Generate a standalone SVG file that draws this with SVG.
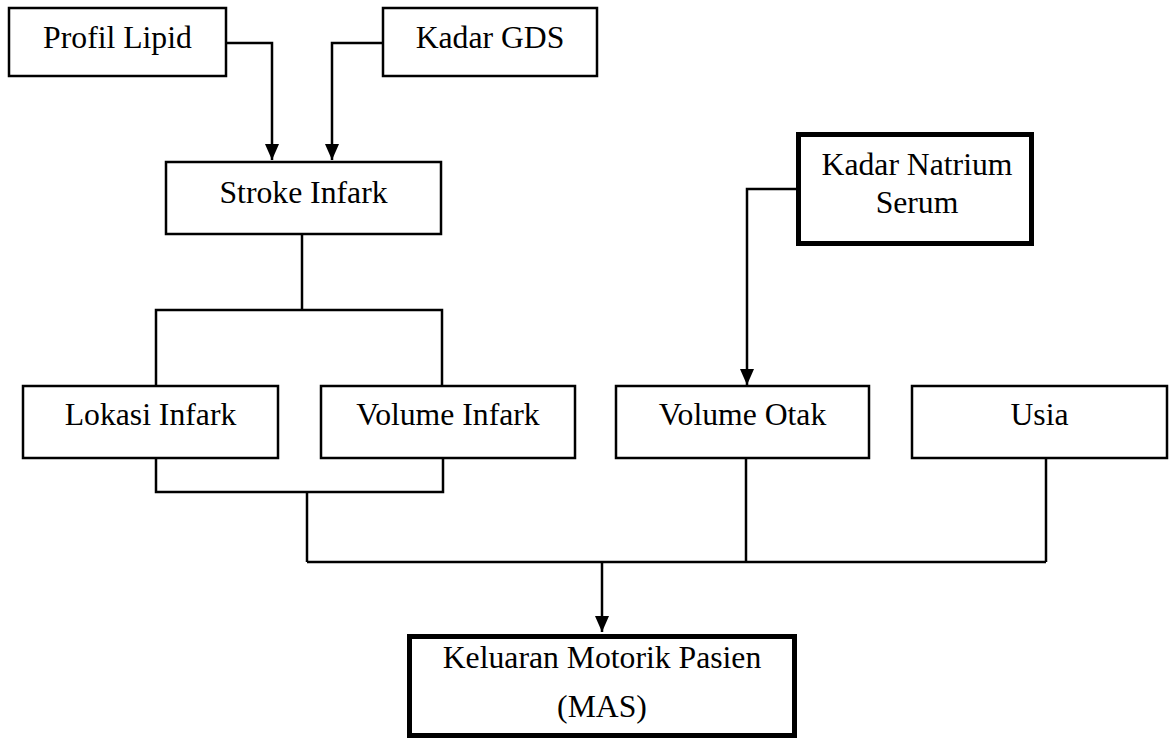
<svg xmlns="http://www.w3.org/2000/svg" width="1170" height="742" viewBox="0 0 1170 742">
<style>
.box{fill:#fff;stroke:#000;stroke-width:2.5}
.thick{fill:#fff;stroke:#000;stroke-width:5}
.t{font-family:"Liberation Serif","Times New Roman",serif;font-size:31.7px;fill:#000;text-anchor:middle}
.c{fill:none;stroke:#000;stroke-width:2.5}
</style>
<defs>
<marker id="arr" markerUnits="userSpaceOnUse" viewBox="0 0 16 14" markerWidth="16" markerHeight="14" refX="16" refY="7" orient="auto">
<path d="M0,0 L16,7 L0,14 z" fill="#000"/>
</marker>
</defs>
<rect width="1170" height="742" fill="#fff"/>
<g id="connectors">
<path class="c" d="M226,43 H272 V160" marker-end="url(#arr)"/>
<path class="c" d="M383,43 H332 V160" marker-end="url(#arr)"/>
<path class="c" d="M796,189 H747 V385" marker-end="url(#arr)"/>
<path class="c" d="M302,234 V310"/>
<path class="c" d="M156,386 V310 H442 V386"/>
<path class="c" d="M156,458 V492 H443 V458"/>
<path class="c" d="M307,492 V562"/>
<path class="c" d="M307,562 H1046"/>
<path class="c" d="M746,458 V562"/>
<path class="c" d="M1046,458 V562"/>
<path class="c" d="M602,562 V632" marker-end="url(#arr)"/>
</g>
<g id="profil-lipid"><rect class="box" x="9" y="8" width="217" height="68"/><text class="t" x="117.5" y="48">Profil Lipid</text></g>
<g id="kadar-gds"><rect class="box" x="383" y="8" width="214" height="68"/><text class="t" x="490" y="48">Kadar GDS</text></g>
<g id="stroke-infark"><rect class="box" x="166" y="162" width="275" height="72"/><text class="t" x="303.5" y="203">Stroke Infark</text></g>
<g id="kadar-natrium"><rect class="thick" x="798.5" y="134.5" width="233" height="109"/><text class="t" x="917" y="175">Kadar Natrium</text><text class="t" x="917" y="213">Serum</text></g>
<g id="lokasi-infark"><rect class="box" x="23" y="386" width="255" height="72"/><text class="t" x="150.5" y="425">Lokasi Infark</text></g>
<g id="volume-infark"><rect class="box" x="321" y="386" width="254" height="72"/><text class="t" x="448" y="425">Volume Infark</text></g>
<g id="volume-otak"><rect class="box" x="616" y="386" width="253" height="72"/><text class="t" x="742.5" y="425">Volume Otak</text></g>
<g id="usia"><rect class="box" x="912" y="386" width="255" height="72"/><text class="t" x="1039.5" y="425">Usia</text></g>
<g id="keluaran"><rect class="thick" x="409.5" y="636.5" width="385" height="99"/><text class="t" x="602" y="668">Keluaran Motorik Pasien</text><text class="t" x="602" y="717">(MAS)</text></g>
</svg>
